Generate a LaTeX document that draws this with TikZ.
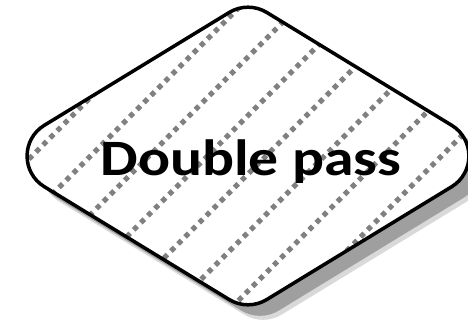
\documentclass[tikz,border=0pt]{standalone}
\usepackage{fontspec}
\setmainfont{Carlito}
\usetikzlibrary{calc}

\tikzset{
  hatchline/.style={draw=gray, line width=5pt, dash pattern=on 5pt off 5pt},
  outline/.style={draw=black, line width=3.5pt, line join=round},
  shadowfill/.style={fill=gray!75},
  labeltext/.style={font=\bfseries\fontsize{51}{60}\selectfont, inner sep=0pt}
}

% rounded diamond through the corners L, T, R, B
\newcommand{\dpshape}{($(L)!59pt!(T)$) -- ($(T)!22pt!(L)$)
  .. controls ($(T)!8.5pt!(L)$) and ($(T)!8.5pt!(R)$) .. ($(T)!22pt!(R)$)
  -- ($(R)!59pt!(T)$)
  .. controls ($(R)!32pt!(T)$) and ($(R)!32pt!(B)$) .. ($(R)!59pt!(B)$)
  -- ($(B)!22pt!(R)$)
  .. controls ($(B)!8.5pt!(R)$) and ($(B)!8.5pt!(L)$) .. ($(B)!22pt!(L)$)
  -- ($(L)!59pt!(B)$)
  .. controls ($(L)!32pt!(B)$) and ($(L)!32pt!(T)$) .. ($(L)!59pt!(T)$) -- cycle}

\begin{document}
\begin{tikzpicture}[x=1pt, y=-1pt]
\useasboundingbox (0,0) rectangle (468,325);
\coordinate (L) at (-6,156);
\coordinate (T) at (248,1);
\coordinate (R) at (502,156);
\coordinate (B) at (248,311);

% shadow
\fill[gray!30, transform canvas={shift={(15pt,-15pt)}}] \dpshape;
\fill[shadowfill, transform canvas={shift={(12pt,-11pt)}}] \dpshape;

% body with hatching
\fill[white] \dpshape;
\begin{scope}
  \clip \dpshape;
  \foreach \k in {-2,...,5}
    \draw[hatchline] (305+58.5*\k, 0) -- ++(-330, 330);
\end{scope}
\draw[outline] \dpshape;

\node[labeltext, anchor=base] (dptext) at (251,175) {\scalebox{1.17}[1]{Double pass}};
\end{tikzpicture}
\end{document}
